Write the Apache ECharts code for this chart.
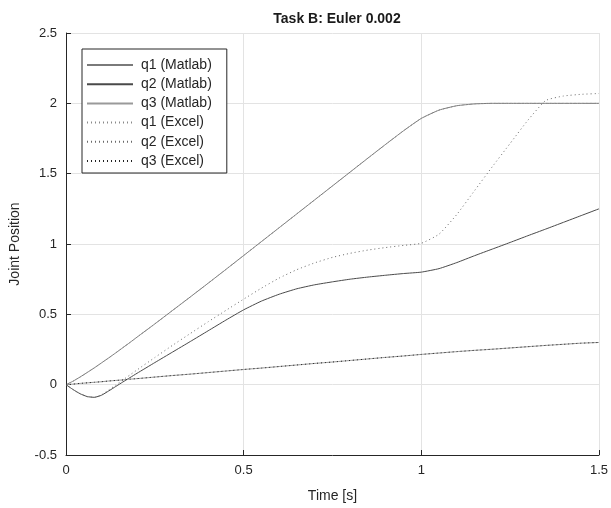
<!DOCTYPE html>
<html>
<head>
<meta charset="utf-8">
<script src="https://cdn.jsdelivr.net/npm/echarts@6/dist/echarts.min.js"></script>
<style>html,body{margin:0;padding:0;background:#fff;}#c{width:611px;height:508px;}</style>
</head>
<body>
<div id="c"></div>
<script>
const times = [0,0.02,0.04,0.06,0.08,0.1,0.12,0.14,0.16,0.18,0.2,0.25,0.3,0.35,0.4,0.45,0.5,0.55,0.6,0.65,0.7,0.75,0.8,0.85,0.9,0.95,1.0,1.05,1.1,1.15,1.2,1.25,1.3,1.35,1.4,1.45,1.5];
const q1Matlab = [0,0.025,0.055,0.087,0.12,0.155,0.19,0.226,0.263,0.3,0.338,0.432,0.528,0.624,0.721,0.819,0.918,1.017,1.116,1.215,1.314,1.413,1.512,1.611,1.709,1.805,1.893,1.952,1.983,1.996,2.0,2.0,2.0,2.0,2.0,2.0,2.0];
const q2Matlab = [0,-0.035,-0.065,-0.085,-0.09,-0.075,-0.045,-0.013,0.019,0.05,0.081,0.157,0.232,0.307,0.383,0.459,0.532,0.594,0.643,0.682,0.71,0.731,0.75,0.765,0.778,0.79,0.80,0.825,0.868,0.917,0.964,1.011,1.059,1.106,1.154,1.202,1.25];
const q3Matlab = [0,0.004,0.009,0.013,0.017,0.021,0.026,0.03,0.034,0.039,0.043,0.054,0.065,0.075,0.086,0.097,0.108,0.118,0.129,0.14,0.151,0.161,0.172,0.183,0.194,0.204,0.215,0.225,0.235,0.244,0.252,0.261,0.27,0.279,0.287,0.295,0.30];
const q1Excel = [0,0.025,0.055,0.087,0.12,0.155,0.19,0.226,0.263,0.3,0.338,0.432,0.528,0.624,0.721,0.819,0.918,1.017,1.116,1.215,1.314,1.413,1.512,1.611,1.709,1.805,1.893,1.952,1.983,1.996,2.0,2.0,2.0,2.0,2.0,2.0,2.0];
const q2Excel = [0,-0.035,-0.065,-0.085,-0.09,-0.073,-0.038,-0.003,0.033,0.069,0.105,0.193,0.28,0.364,0.447,0.528,0.608,0.686,0.758,0.818,0.866,0.905,0.934,0.957,0.975,0.99,1.005,1.07,1.21,1.38,1.55,1.715,1.88,2.02,2.052,2.064,2.07];
const q3Excel = [0,0.004,0.009,0.013,0.017,0.021,0.026,0.03,0.034,0.039,0.043,0.054,0.065,0.075,0.086,0.097,0.108,0.118,0.129,0.14,0.151,0.161,0.172,0.183,0.194,0.204,0.215,0.225,0.235,0.244,0.252,0.261,0.27,0.279,0.287,0.295,0.30];
const xTicks = [0,0.5,1,1.5];
const yTicks = [-0.5,0,0.5,1,1.5,2,2.5];
const names = ['q1 (Matlab)','q2 (Matlab)','q3 (Matlab)','q1 (Excel)','q2 (Excel)','q3 (Excel)'];

const pairs = v => times.map((t,i)=>[t,v[i]]);
const font = 'Liberation Sans, Arial, Helvetica, sans-serif';
const mk = (name, vals, color, dotted) => ({
  name, type:'line', data: pairs(vals), symbol:'none', showSymbol:false, smooth:0.15,
  lineStyle:{color, width:1, type: dotted ? [1,3] : 'solid'},
  itemStyle:{color}, z: dotted ? 3 : 2, animation:false
});
const chart = echarts.init(document.getElementById('c'), null, {renderer:'canvas'});
chart.setOption({
  animation:false,
  backgroundColor:'#fff',
  title:{text:'Task B: Euler 0.002', left:332, textAlign:'center', top:7,
    textStyle:{fontFamily:font, fontSize:14, fontWeight:'bold', color:'#1a1a1a'}},
  grid:{left:66, right:12, top:33, bottom:53, containLabel:false},
  legend:{orient:'vertical', left:82, top:49, data:names, itemWidth:46, itemHeight:14, itemGap:5.2,
    padding:[9,15,5,4], borderColor:'#262626', borderWidth:1, backgroundColor:'#fff',
    itemStyle:{opacity:0},
    textStyle:{fontFamily:font, fontSize:14, color:'#262626', padding:[0,0,0,3], lineHeight:14}},
  xAxis:{type:'value', min:0, max:1.5, interval:0.5, name:'Time [s]', nameLocation:'middle', nameGap:34,
    nameTextStyle:{fontFamily:font, fontSize:14, color:'#262626'},
    axisLine:{show:true, onZero:false, lineStyle:{color:'#262626', width:1}},
    axisTick:{show:true, inside:true, length:5, lineStyle:{color:'#262626'}},
    axisLabel:{fontFamily:font, fontSize:13, color:'#262626', margin:9, formatter: v => String(v)},
    splitLine:{show:true, lineStyle:{color:'#e3e3e3', width:1}}},
  yAxis:{type:'value', min:-0.5, max:2.5, interval:0.5, name:'Joint Position', nameLocation:'middle', nameGap:44,
    nameTextStyle:{fontFamily:font, fontSize:14, color:'#262626'},
    axisLine:{show:true, onZero:false, lineStyle:{color:'#262626', width:1}},
    axisTick:{show:true, inside:true, length:5, lineStyle:{color:'#262626'}},
    axisLabel:{fontFamily:font, fontSize:13, color:'#262626', margin:9, formatter: v => String(v)},
    splitLine:{show:true, lineStyle:{color:'#e3e3e3', width:1}}},
  series:[
    mk(names[0], q1Matlab, '#7a7a7a', false),
    mk(names[1], q2Matlab, '#4a4a4a', false),
    mk(names[2], q3Matlab, '#9a9a9a', false),
    mk(names[3], q1Excel, '#8a8a8a', true),
    mk(names[4], q2Excel, '#6a6a6a', true),
    mk(names[5], q3Excel, '#222222', true)
  ]
});
</script>
</body>
</html>
